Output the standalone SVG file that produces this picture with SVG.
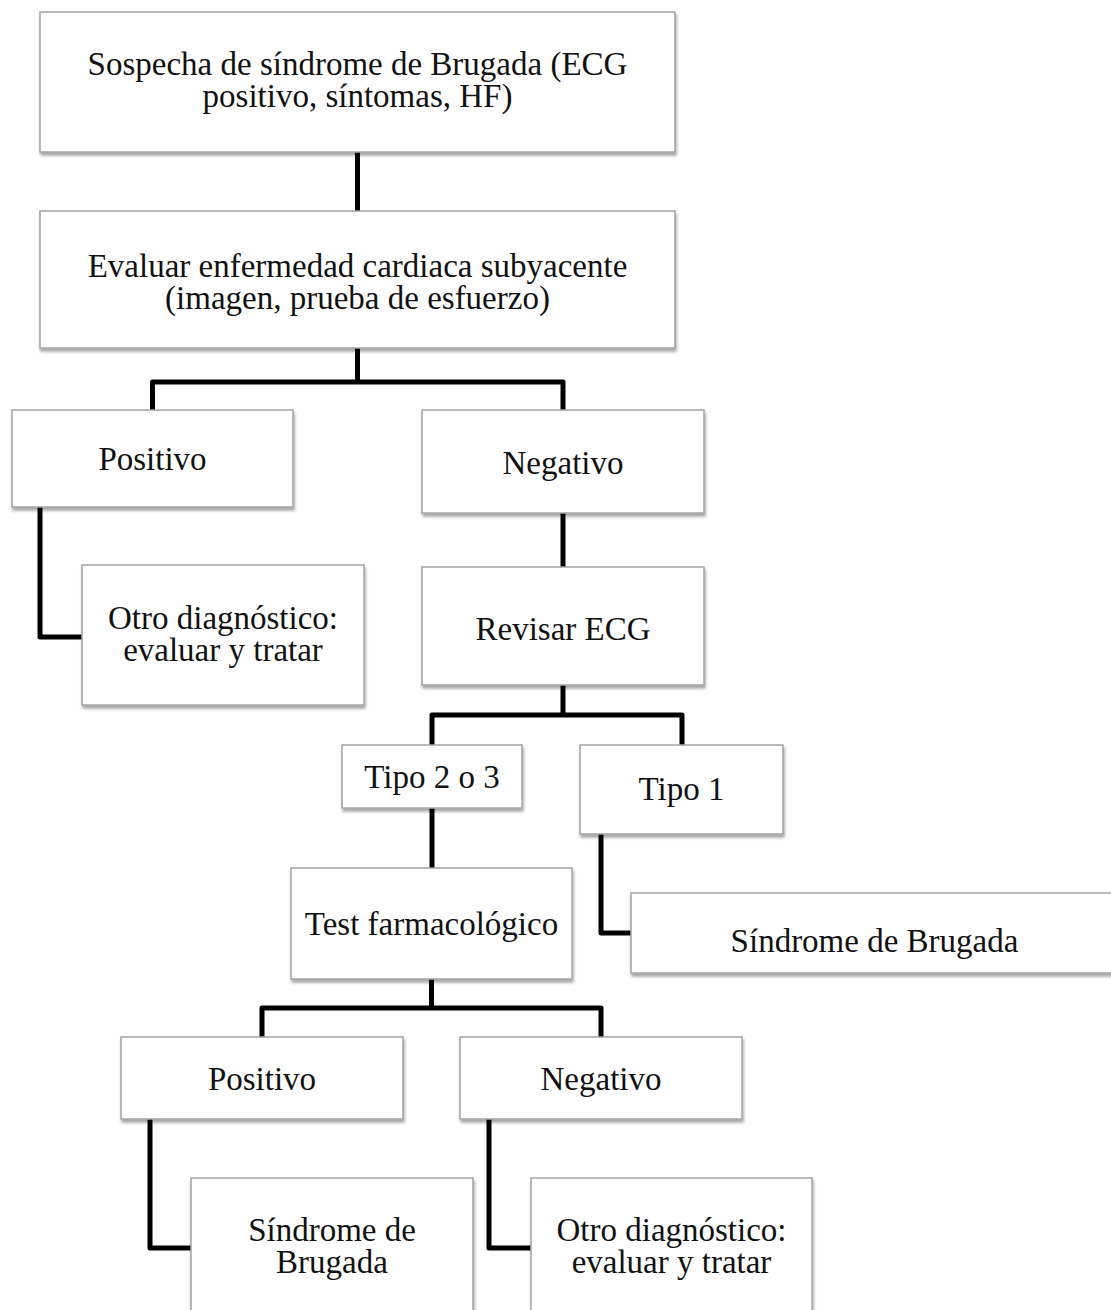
<svg xmlns="http://www.w3.org/2000/svg" width="1111" height="1310" viewBox="0 0 1111 1310">
  <style>
    .box { fill: #ffffff; stroke: #a3a3a3; stroke-width: 1.5; filter: url(#shadow); }
    .lbl { font-family: "Liberation Serif", "Times New Roman", serif; font-size: 33px; fill: #111; text-anchor: middle; }
    .wire { fill: none; stroke: #000; stroke-width: 5; stroke-linejoin: round; stroke-linecap: butt; }
  </style>
  <defs>
    <filter id="shadow" x="-5%" y="-10%" width="115%" height="130%">
      <feDropShadow dx="1" dy="3" stdDeviation="1.8" flood-color="#000" flood-opacity="0.35"/>
    </filter>
  </defs>
  <rect width="1111" height="1310" fill="#ffffff"/>

  <!-- connectors -->
  <g id="connectors">
    <path class="wire" d="M357.5 152 V211"/>
    <path class="wire" d="M357.5 348 V382 M152.5 410 V382 H563 V410"/>
    <path class="wire" d="M40 507 V637 H82"/>
    <path class="wire" d="M563 513 V567"/>
    <path class="wire" d="M563 685 V715 M432 745 V715 H682 V745"/>
    <path class="wire" d="M432 808 V868"/>
    <path class="wire" d="M601 834 V933 H631"/>
    <path class="wire" d="M431.5 979 V1008 M262 1037 V1008 H601 V1037"/>
    <path class="wire" d="M150 1119 V1248 H191"/>
    <path class="wire" d="M489 1119 V1248 H531"/>
  </g>

  <!-- nodes -->
  <g id="n-sospecha">
    <rect class="box" x="40" y="12" width="635" height="140"/>
    <text class="lbl" x="357.5" y="75">Sospecha de síndrome de Brugada (ECG</text>
    <text class="lbl" x="357.5" y="107">positivo, síntomas, HF)</text>
  </g>
  <g id="n-evaluar">
    <rect class="box" x="40" y="211" width="635" height="137"/>
    <text class="lbl" x="357.5" y="277">Evaluar enfermedad cardiaca subyacente</text>
    <text class="lbl" x="357.5" y="309">(imagen, prueba de esfuerzo)</text>
  </g>
  <g id="n-positivo-1">
    <rect class="box" x="12" y="410" width="281" height="97"/>
    <text class="lbl" x="152.5" y="470">Positivo</text>
  </g>
  <g id="n-negativo-1">
    <rect class="box" x="422" y="410" width="282" height="103"/>
    <text class="lbl" x="563" y="474">Negativo</text>
  </g>
  <g id="n-otro-1">
    <rect class="box" x="82" y="565" width="282" height="140"/>
    <text class="lbl" x="223" y="629">Otro diagnóstico:</text>
    <text class="lbl" x="223" y="661">evaluar y tratar</text>
  </g>
  <g id="n-revisar">
    <rect class="box" x="422" y="567" width="282" height="118"/>
    <text class="lbl" x="563" y="640">Revisar ECG</text>
  </g>
  <g id="n-tipo23">
    <rect class="box" x="342" y="745" width="180" height="63"/>
    <text class="lbl" x="432" y="788">Tipo 2 o 3</text>
  </g>
  <g id="n-tipo1">
    <rect class="box" x="580" y="745" width="203" height="89"/>
    <text class="lbl" x="681.5" y="800">Tipo 1</text>
  </g>
  <g id="n-test">
    <rect class="box" x="291" y="868" width="281" height="111"/>
    <text class="lbl" x="431.5" y="935">Test farmacológico</text>
  </g>
  <g id="n-brugada-1">
    <rect class="box" x="631" y="893" width="487" height="80"/>
    <text class="lbl" x="874.5" y="952">Síndrome de Brugada</text>
  </g>
  <g id="n-positivo-2">
    <rect class="box" x="121" y="1037" width="282" height="82"/>
    <text class="lbl" x="262" y="1090">Positivo</text>
  </g>
  <g id="n-negativo-2">
    <rect class="box" x="460" y="1037" width="282" height="82"/>
    <text class="lbl" x="601" y="1090">Negativo</text>
  </g>
  <g id="n-brugada-2">
    <rect class="box" x="191" y="1178" width="282" height="150"/>
    <text class="lbl" x="332" y="1241">Síndrome de</text>
    <text class="lbl" x="332" y="1273">Brugada</text>
  </g>
  <g id="n-otro-2">
    <rect class="box" x="531" y="1178" width="281" height="150"/>
    <text class="lbl" x="671.5" y="1241">Otro diagnóstico:</text>
    <text class="lbl" x="671.5" y="1273">evaluar y tratar</text>
  </g>
</svg>
